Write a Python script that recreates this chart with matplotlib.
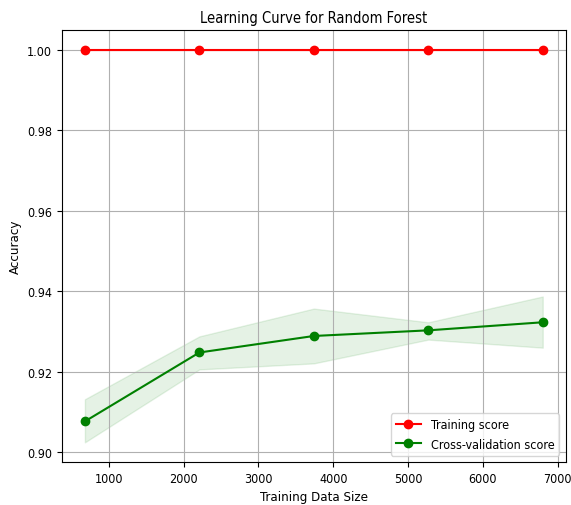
import matplotlib
matplotlib.use('Agg')
import matplotlib.pyplot as plt

# Data
train_sizes = [680, 2210, 3740, 5270, 6800]
train_mean = [1.0, 1.0, 1.0, 1.0, 1.0]
cv_mean = [0.9077, 0.9248, 0.9289, 0.9303, 0.9323]
cv_upper = [0.9132, 0.9288, 0.9357, 0.9323, 0.9387]
cv_lower = [0.9025, 0.9206, 0.9221, 0.9280, 0.9260]

# the reference text is narrow and tall, condensed DejaVu is the closest match
plt.rcParams['font.stretch'] = 'condensed'

fig = plt.figure(figsize=(5.71, 5.06), dpi=100)
ax = fig.add_axes([0.1086, 0.085, 0.882, 0.854])

ax.fill_between(train_sizes, [1.0] * 5, [1.0] * 5, alpha=0.1, color='r')
ax.fill_between(train_sizes, cv_lower, cv_upper, alpha=0.1, color='g')
ax.plot(train_sizes, train_mean, 'o-', color='r', label='Training score')
ax.plot(train_sizes, cv_mean, 'o-', color='g', label='Cross-validation score')

ax.set_title('Learning Curve for Random Forest', fontsize=10.5)
ax.set_xlabel('Training Data Size', fontsize=9.5)
ax.set_ylabel('Accuracy', fontsize=9.5)
ax.tick_params(axis='both', labelsize=9)
ax.legend(loc='lower right', fontsize=9)
ax.grid(True)

fig.savefig('out.png', dpi=100)
